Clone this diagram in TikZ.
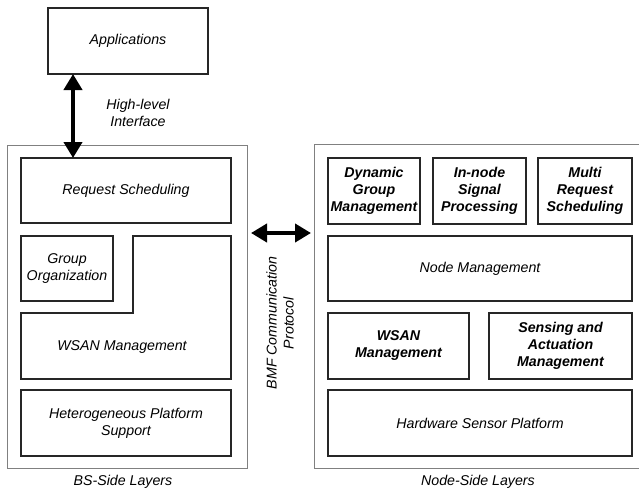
\documentclass[tikz,border=0pt]{standalone}
\usepackage{fontspec}
\setmainfont{Liberation Sans}
\usetikzlibrary{arrows.meta}
\tikzset{
  inbox/.style={draw=black!85, line width=1.1pt, inner sep=0pt, align=center,
    font=\fontsize{14.2}{17}\selectfont\itshape},
  bbox/.style={inbox, font=\fontsize{14.2}{17}\selectfont\bfseries\itshape},
  outbox/.style={draw=black!50, line width=0.9pt, inner sep=0pt},
  lbl/.style={inner sep=0pt, align=center, font=\fontsize{14.2}{17}\selectfont\itshape},
  bigarrow/.style={line width=4pt, {Triangle[width=18pt,length=16pt]}-{Triangle[width=18pt,length=16pt]}},
}
\begin{document}
\begin{tikzpicture}[x=1pt,y=-1pt]
\useasboundingbox (0,0) rectangle (639,490);
\clip (0,0) rectangle (639,490);
% containers
\node[outbox, minimum width=240pt, minimum height=323pt] (bs) at (127,306.5) {};
\node[inner sep=0pt, minimum width=324pt, minimum height=323pt] (ns) at (477,306.5) {};
\draw[black!50, line width=0.9pt] (ns.north east) -- (ns.north west) -- (ns.south west) -- (ns.south east);
% top
\node[inbox, minimum width=160pt, minimum height=66pt] (app) at (128,41) {Applications};
% BS side
\node[inbox, minimum width=210pt, minimum height=65pt] (req) at (126,190.5) {Request Scheduling};
\node[inbox, minimum width=92pt, minimum height=65pt] (grp) at (67,268.5) {Group\\Organization};
\draw[black!85, line width=1.1pt] (21,313) -- (133,313) -- (133,236) -- (231,236) -- (231,379) -- (21,379) -- cycle;
\node[lbl] (wsanl) at (122,347) {WSAN Management};
\node[inbox, minimum width=210pt, minimum height=66pt] (het) at (126,423) {Heterogeneous Platform\\Support};
\node[lbl] (bsl) at (123,482) {BS-Side Layers};
% Node side
\node[bbox, minimum width=92pt, minimum height=66pt] (dyn) at (374,191) {Dynamic\\Group\\Management};
\node[bbox, minimum width=93pt, minimum height=66pt] (inn) at (479.5,191) {In-node\\Signal\\Processing};
\node[bbox, minimum width=94pt, minimum height=66pt] (mul) at (585,191) {Multi\\Request\\Scheduling};
\node[inbox, minimum width=304pt, minimum height=65pt] (nm) at (480,268.5) {Node Management};
\node[bbox, minimum width=141pt, minimum height=66pt] (wsanr) at (398.5,346) {WSAN\\Management};
\node[bbox, minimum width=143pt, minimum height=66pt] (sen) at (560.5,346) {Sensing and\\Actuation\\Management};
\node[inbox, minimum width=304pt, minimum height=66pt] (hw) at (480,423) {Hardware Sensor Platform};
\node[lbl] (nsl) at (478,482) {Node-Side Layers};
% arrows
\coordinate (va) at (73,74);
\coordinate (vb) at (73,158);
\draw[bigarrow] (va) -- (vb);
\node[lbl] (hli) at (138,113) {High-level\\Interface};
\coordinate (ha) at (251,233);
\coordinate (hb) at (311,233);
\draw[bigarrow] (ha) -- (hb);
\node[lbl, rotate=90] (bmf) at (280,323) {BMF Communication\\Protocol};
\end{tikzpicture}
\end{document}
